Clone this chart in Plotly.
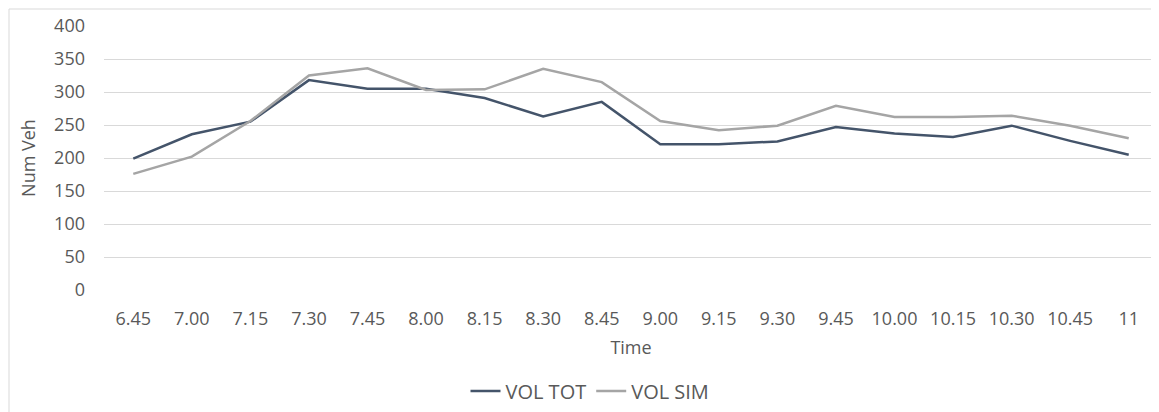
import plotly.graph_objects as go

times = ["6.45", "7.00", "7.15", "7.30", "7.45", "8.00", "8.15", "8.30", "8.45",
         "9.00", "9.15", "9.30", "9.45", "10.00", "10.15", "10.30", "10.45", "11"]
vol_tot = [199, 236, 255, 318, 305, 305, 291, 263, 285, 221, 221, 225, 247, 237, 232, 249, 226, 205]
vol_sim = [176, 202, 256, 325, 336, 303, 304, 335, 315, 256, 242, 249, 279, 262, 262, 264, 249, 230]
y_ticks = [0, 50, 100, 150, 200, 250, 300, 350, 400]

FONT = "Open Sans"
TXT = "#595959"
FS = 18

# page body has an 8px default margin; size the figure to compensate
W, H = 1151, 404
ML, MT, MB = 96, 18, 122
PW = W - ML - 1
PH = H - MT - MB

fig = go.Figure()
fig.add_trace(go.Scatter(x=times, y=vol_tot, mode="lines", name="VOL TOT",
                         line=dict(color="#44546A", width=2.5)))
fig.add_trace(go.Scatter(x=times, y=vol_sim, mode="lines", name="VOL SIM",
                         line=dict(color="#A5A5A5", width=2.5)))

fig.update_layout(
    width=W, height=H,
    margin=dict(l=ML, r=1, t=MT, b=MB, autoexpand=False),
    paper_bgcolor="white", plot_bgcolor="white",
    font=dict(family=FONT, size=FS, color=TXT),
    showlegend=True,
    legend=dict(orientation="h", x=(590 - 8) / W, xanchor="center", xref="container",
                y=(H - (391 - 8)) / H, yanchor="middle", yref="container",
                font=dict(size=20, color=TXT),
                itemwidth=30, traceorder="normal", bgcolor="rgba(0,0,0,0)"),
    xaxis=dict(type="category", categoryorder="array", categoryarray=times,
               range=[-0.5, len(times) - 0.5], automargin=False,
               showgrid=False, zeroline=False, showline=False, ticks="",
               ticklabelstandoff=16,
               title=dict(text="Time", standoff=12, font=dict(size=FS, color=TXT))),
    yaxis=dict(range=[0, 400], tickvals=y_ticks, showgrid=True, gridcolor="#D9D9D9",
               gridwidth=1, zeroline=False, showline=False, ticks="", automargin=False,
               ticklabelstandoff=18,
               title=dict(text="Num Veh", standoff=13, font=dict(size=FS, color=TXT))),
    shapes=[dict(type="rect", xref="paper", yref="paper",
                 x0=-(ML - 1) / PW, x1=1.05, y0=-1.0, y1=1 + (MT - 1) / PH,
                 line=dict(color="#D9D9D9", width=1), layer="below")],
)

fig.write_html("out.html")
